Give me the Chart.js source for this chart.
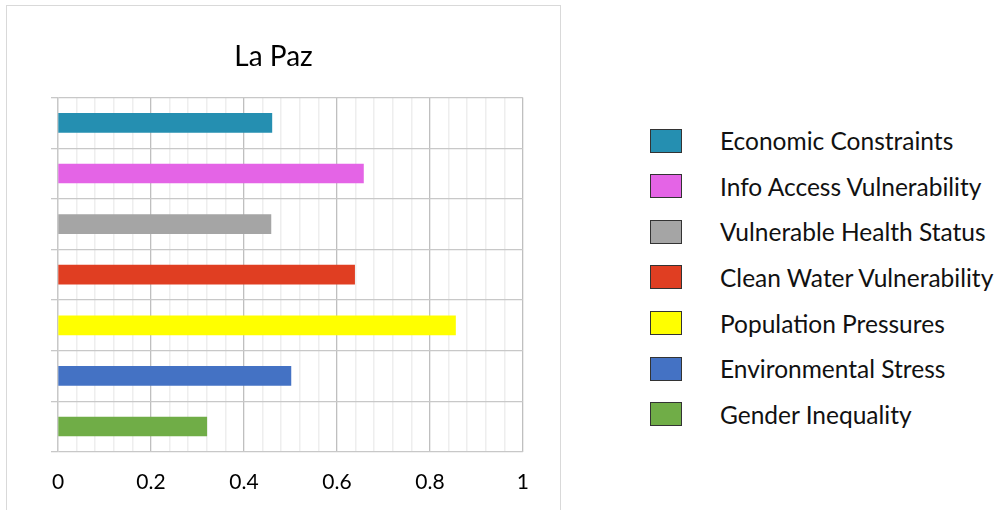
<!DOCTYPE html>
<html>
<head>
<meta charset="utf-8">
<script src="https://cdn.jsdelivr.net/npm/chart.js@4/dist/chart.umd.min.js"></script>
<style>
    html, body { margin: 0; padding: 0; background: #fff; }
    body { width: 1001px; height: 510px; position: relative; overflow: hidden; font-family: Lato, 'Open Sans', sans-serif; }
    .frame { position: absolute; left: 6px; top: 5px; width: 555px; height: 520px; border: 1px solid #d9d9d9; box-sizing: border-box; }
    .chart-wrap { position: absolute; left: 0; top: 0; width: 547px; height: 530px; }
    .legend { position: absolute; left: 650px; top: 117.7px; }
    .legend__row { display: flex; align-items: center; height: 45.67px; }
    .legend__box { width: 32px; height: 24px; box-sizing: border-box; border: 1px solid #333; }
    .legend__text { margin-left: 38px; font-size: 24.5px; color: #111; white-space: nowrap; }
</style>
</head>
<body>
<div class="frame"></div>
<div class="chart-wrap"><canvas id="chart"></canvas></div>
<div class="legend" id="legend"></div>

<script>
const categories = [
    'Economic Constraints',
    'Info Access Vulnerability',
    'Vulnerable Health Status',
    'Clean Water Vulnerability',
    'Population Pressures',
    'Environmental Stress',
    'Gender Inequality'
]
const values = [0.46, 0.657, 0.458, 0.638, 0.855, 0.501, 0.32]
const barColors = ['#258fb1', '#e464e6', '#a5a5a5', '#e03e22', '#ffff00', '#4472c4', '#70ad47']
const xTickLabels = ['0', '0.2', '0.4', '0.6', '0.8', '1']

// html legend, same order as the bars (top to bottom)
const legendEl = document.getElementById('legend')
categories.forEach(function (name, i) {
    const row = document.createElement('div')
    row.className = 'legend__row'
    const box = document.createElement('div')
    box.className = 'legend__box'
    box.style.background = barColors[i]
    const text = document.createElement('div')
    text.className = 'legend__text'
    text.textContent = name
    row.appendChild(box)
    row.appendChild(text)
    legendEl.appendChild(row)
})

const isMajor = function (v) {
    return Math.abs(v * 5 - Math.round(v * 5)) < 1e-6
}

new Chart(document.getElementById('chart'), {
    type: 'bar',
    data: {
        labels: categories,
        datasets: [{
            label: 'La Paz',
            data: values,
            backgroundColor: barColors,
            borderWidth: 0,
            barThickness: 19
        }]
    },
    options: {
        indexAxis: 'y',
        responsive: true,
        maintainAspectRatio: false,
        animation: false,
        layout: {
            padding: { left: 23, right: 23, top: 25, bottom: 17 }
        },
        plugins: {
            legend: { display: false },
            tooltip: { enabled: false },
            title: {
                display: true,
                text: 'La Paz',
                color: '#000',
                font: { family: 'Lato', size: 28, weight: 'normal' },
                padding: { top: 15, bottom: 24 }
            }
        },
        scales: {
            x: {
                min: 0,
                max: 1,
                border: { display: false },
                grid: {
                    drawTicks: false,
                    color: function (ctx) {
                        return ctx.tick && isMajor(ctx.tick.value) ? '#bfbfbf' : '#eeeeee'
                    },
                    lineWidth: function (ctx) {
                        return ctx.tick && isMajor(ctx.tick.value) ? 1.3 : 1.5
                    }
                },
                ticks: {
                    stepSize: 0.04,
                    maxTicksLimit: 40,
                    autoSkip: false,
                    maxRotation: 0,
                    padding: 18,
                    color: '#000',
                    font: { family: 'Lato', size: 21 },
                    callback: function (value) {
                        if (!isMajor(value)) return ''
                        return xTickLabels[Math.round(value * 5)]
                    }
                }
            },
            y: {
                afterFit: function (scale) {
                    scale.width = 35
                },
                border: { display: true, color: '#c8c8c8', width: 1.3 },
                grid: {
                    offset: true,
                    color: '#c8c8c8',
                    lineWidth: 1.3,
                    drawTicks: true,
                    tickLength: 7
                },
                ticks: { display: false }
            }
        }
    }
})
</script>
</body>
</html>
